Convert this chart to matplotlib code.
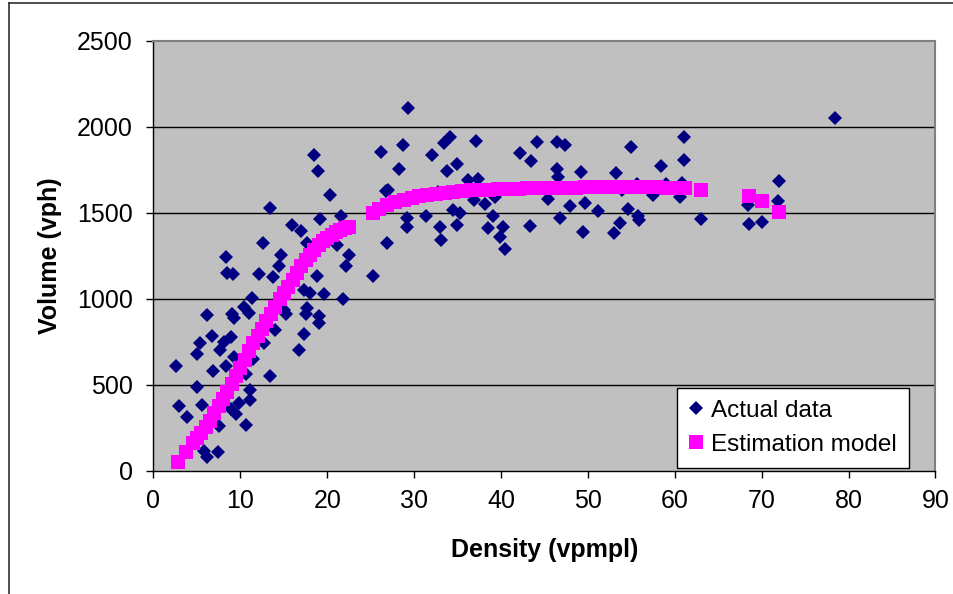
import matplotlib
matplotlib.use("Agg")
import matplotlib.pyplot as plt
from matplotlib.lines import Line2D

plt.rcParams["font.family"] = ["Liberation Sans", "DejaVu Sans"]

# actual observations: density (vpmpl), volume (vph)
actual_density = [
    18.5, 18.9, 26.2, 26.8, 20.3, 13.4, 19.2, 21.6, 15.9, 17.0, 17.7, 12.6, 26.9, 21.1,
    14.7, 22.5, 8.4, 14.5, 22.2, 8.5, 9.2, 12.1, 13.7, 18.8, 25.3,
    11.3, 10.4, 11.0, 6.2, 9.0, 9.3, 17.3, 18.0, 19.6, 21.8, 17.7, 17.6, 19.0, 19.1,
    15.3, 15.0, 14.0, 17.3, 16.7, 12.7, 6.7, 8.9, 8.1, 7.6, 5.4, 5.0, 2.6, 6.9, 8.3,
    9.3, 10.6, 13.4, 11.5, 5.0, 11.1, 11.1, 9.8, 2.9, 5.6, 3.8, 8.9, 9.5, 7.5, 10.7,
    5.8, 6.2, 7.4,
    29.3, 28.7, 32.0, 33.4, 34.1, 37.1, 28.3, 33.8, 34.9, 27.0, 36.2, 37.3, 42.2, 43.5,
    44.1, 46.4, 47.4, 46.4, 46.6, 49.2, 53.2, 54.9, 29.2, 29.2, 31.4, 34.5, 35.3, 36.9,
    38.2, 39.1, 33.0, 34.9, 33.1, 38.5, 40.2, 39.9, 40.4, 43.3, 45.4, 46.8, 47.9, 49.7,
    49.4, 51.2, 54.6, 53.7, 53.0, 55.8, 55.9, 32.8, 39.3,
    78.4, 61.1, 61.1, 58.4, 72.0, 71.9, 68.4, 53.9, 57.5, 60.6, 63.0, 68.5, 70.0,
    55.7, 59.0, 60.8,
]
actual_volume = [
    1837, 1746, 1856, 1630, 1605, 1531, 1465, 1483, 1430, 1397, 1327, 1327, 1327, 1314,
    1256, 1254, 1242, 1194, 1194, 1153, 1145, 1145, 1130, 1135, 1135,
    1004, 955, 917, 909, 915, 890, 1052, 1037, 1029, 1002, 950, 913, 904, 862,
    913, 936, 822, 797, 703, 746, 783, 781, 748, 703, 742, 681, 611, 581, 608,
    665, 563, 554, 650, 490, 473, 415, 398, 380, 382, 312, 359, 333, 261, 267,
    115, 84, 108,
    2108, 1895, 1837, 1905, 1944, 1920, 1754, 1746, 1783, 1634, 1692, 1696, 1851, 1802,
    1910, 1915, 1895, 1756, 1707, 1740, 1731, 1882, 1469, 1420, 1483, 1517, 1498, 1576,
    1550, 1485, 1417, 1428, 1343, 1411, 1417, 1362, 1289, 1423, 1582, 1469, 1541, 1556,
    1391, 1514, 1525, 1444, 1382, 1483, 1459, 1624, 1595,
    2050, 1940, 1808, 1773, 1688, 1570, 1547, 1634, 1605, 1595, 1465, 1436, 1446,
    1670, 1668, 1672,
]

# estimation model points
model_density = [
    2.8, 3.7, 4.5, 5.0, 5.5, 6.0, 6.5, 7.0, 7.5, 8.0, 8.5, 9.0, 9.5, 10.0, 10.5, 11.0,
    11.5, 12.0, 12.5, 13.0, 13.5, 14.0, 14.6, 15.0, 15.5, 16.0, 16.5, 17.0, 17.5, 18.0,
    18.5, 19.0, 19.5, 20.0, 20.5, 21.0, 21.5, 22.0, 22.5,
    25.3, 26.0, 26.9, 27.8, 28.8, 29.7, 30.6, 31.5, 32.5, 33.5, 34.5, 35.5, 36.5, 37.6,
    38.6, 39.6, 40.7, 42.0, 43.0, 44.1, 45.2, 46.4, 47.5, 48.6, 49.7, 50.8, 52.0, 53.0,
    54.0, 55.0, 56.0, 57.0, 58.0, 59.0, 60.0, 61.2, 63.0, 68.5, 70.0, 72.0,
]
model_volume = [
    54, 110, 160, 192, 222, 255, 293, 335, 378, 420, 462, 506, 553, 600, 648, 695,
    742, 785, 828, 870, 910, 952, 1000, 1033, 1072, 1110, 1150, 1190, 1227, 1258,
    1285, 1312, 1335, 1355, 1372, 1388, 1400, 1411, 1420,
    1502, 1525, 1547, 1563, 1576, 1590, 1598, 1605, 1612, 1619, 1624, 1628, 1631, 1634,
    1636, 1637, 1638, 1641, 1643, 1644, 1645, 1646, 1647, 1648, 1649, 1650, 1650, 1650,
    1650, 1650, 1650, 1650, 1649, 1648, 1647, 1645, 1634, 1598, 1572, 1505,
]

x_ticks = [0, 10, 20, 30, 40, 50, 60, 70, 80, 90]
y_ticks = [0, 500, 1000, 1500, 2000, 2500]

fig = plt.figure(figsize=(9.54, 5.94), dpi=100)
ax = fig.add_axes([153.5 / 954, 1 - 471 / 594, 782 / 954, 430 / 594])
ax.set_facecolor("#C0C0C0")

for v in y_ticks[1:-1]:
    ax.axhline(v, color="black", lw=1.0, zorder=1)

ax.plot(actual_density, actual_volume, linestyle="none", marker="D",
        markersize=6.8, color="#000080", markeredgewidth=0, zorder=3,
        label="Actual data")
ax.plot(model_density, model_volume, linestyle="none", marker="s",
        markersize=10.3, color="#FF00FF", markeredgewidth=0, zorder=4,
        label="Estimation model")

ax.set_xlim(0, 90)
ax.set_ylim(0, 2500)
ax.set_xticks(x_ticks)
ax.set_yticks(y_ticks)
ax.tick_params(direction="out", length=5, width=1, labelsize=18, color="black")
ax.tick_params(axis="x", pad=8)
ax.tick_params(axis="y", pad=10)

for side in ("top", "right"):
    ax.spines[side].set_color("#808080")
    ax.spines[side].set_linewidth(1.5)
for side in ("left", "bottom"):
    ax.spines[side].set_color("black")
    ax.spines[side].set_linewidth(1)

ax.set_xlabel("Density (vpmpl)", fontsize=18, fontweight="bold", labelpad=18)
ax.set_ylabel("Volume (vph)", fontsize=18, fontweight="bold", labelpad=11)

leg = ax.legend(loc="lower right", bbox_to_anchor=(0.966, 0.007), borderaxespad=0,
                fontsize=17.5, frameon=True, fancybox=False, framealpha=1,
                edgecolor="black", handlelength=0.6, handletextpad=0.3,
                borderpad=0.5, labelspacing=0.5)
leg.get_frame().set_linewidth(1)

# outer chart frame (top and left edges visible)
fig.add_artist(Line2D([9 / 954, 9 / 954], [0, 1 - 3 / 594], color="#303030", lw=1.2))
fig.add_artist(Line2D([9 / 954, 1], [1 - 3 / 594, 1 - 3 / 594], color="#303030", lw=1.2))

fig.savefig("out.png", dpi=100)
